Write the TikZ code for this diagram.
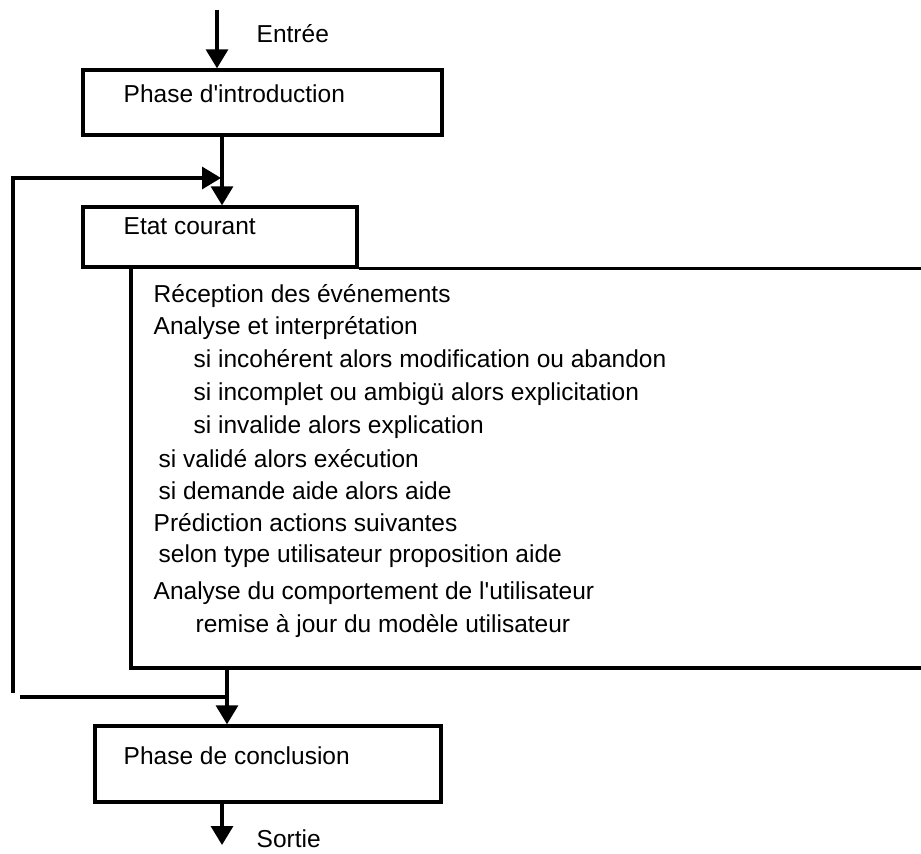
\documentclass[tikz,border=0pt]{standalone}
\usepackage{fontspec}
\setmainfont{Liberation Sans}[Ligatures=TeXOff]
\usetikzlibrary{arrows.meta}
\begin{document}
\begin{tikzpicture}[x=1pt,y=-1pt,
  line width=3.4pt,
  box/.style={draw,rectangle,inner sep=0pt,line width=3.4pt},
  txt/.style={anchor=base west,inner sep=0pt,font=\fontsize{24.5}{28}\selectfont},
  flow/.style={-{Triangle[width=22pt,length=19pt]}},
]
\useasboundingbox (0,0) rectangle (921,854);

% boxes
\node[box,minimum width=359pt,minimum height=65pt] (intro) at (262.5,102.5) {};
\node[box,minimum width=274pt,minimum height=60pt] (etat) at (220,237) {};
\node[box,minimum width=346pt,minimum height=76pt] (concl) at (268,764) {};

% open processing block below the current state
\coordinate (bodyTL) at (131,267);
\coordinate (bodyTR) at (925,267);
\coordinate (bodyBL) at (131,668);
\coordinate (bodyBR) at (925,668);
\draw (etat.south east) -- (etat.south east -| bodyTR);
\draw (bodyTL) -- (bodyBL) -- (bodyBR);

% labels
\node[txt] (lin) at (255,42) {Entrée};
\node[txt] (lintro) at (122,102) {Phase d'introduction};
\node[txt] (letat) at (122,234) {Etat courant};
\node[txt] (lconcl) at (122,764) {Phase de conclusion};
\node[txt] (lout) at (255,847) {Sortie};

\node[txt] (t1) at (152,302) {Réception des événements};
\node[txt] (t2) at (152,334) {Analyse et interprétation};
\node[txt] (t3) at (192,367) {si incohérent alors modification ou abandon};
\node[txt] (t4) at (192,400) {si incomplet ou ambigü alors explicitation};
\node[txt] (t5) at (192,433) {si invalide alors explication};
\node[txt] (t6) at (157,467) {si validé alors exécution};
\node[txt] (t7) at (157,499) {si demande aide alors aide};
\node[txt] (t8) at (152,531) {Prédiction actions suivantes};
\node[txt] (t9) at (157,562) {selon type utilisateur proposition aide};
\node[txt] (t10) at (152,599) {Analyse du comportement de l'utilisateur};
\node[txt] (t11) at (194,632) {remise à jour du modèle utilisateur};

% connectors
\coordinate (entry) at (217,10);
\draw[flow] (entry) -- (entry |- intro.north);
\draw[flow] (222,0 |- intro.south) -- (222,0 |- etat.north);

\coordinate (bodyOut) at (227,668);
\coordinate (join) at (227,697);
\coordinate (loopBL) at (20,697);
\coordinate (loopB) at (13,693);
\coordinate (loopT) at (13,178);
\coordinate (loopEnd) at (221,178);
\draw (join) -- (loopBL);
\draw[flow] (loopB) -- (loopT) -- (loopEnd);

\draw[flow] (bodyOut) -- (bodyOut |- concl.north);

\coordinate (exit) at (222,845);
\draw[flow] (exit |- concl.south) -- (exit);
\end{tikzpicture}
\end{document}
